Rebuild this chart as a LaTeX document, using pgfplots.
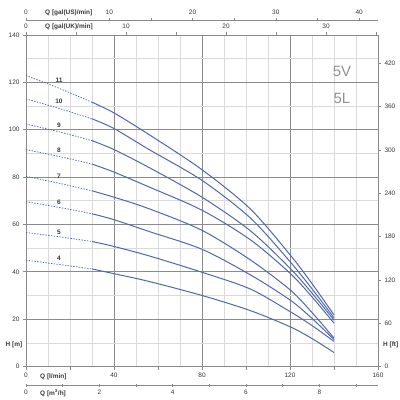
\documentclass[border=0pt]{standalone}
\usepackage{fontspec}
\setmainfont{Liberation Sans}
\usepackage{pgfplots}
\pgfplotsset{compat=1.18}

\definecolor{curve}{RGB}{78,104,168}
\definecolor{majgrid}{RGB}{138,138,138}
\definecolor{mingrid}{RGB}{218,218,218}
\definecolor{txt}{RGB}{55,55,55}
\definecolor{brand}{RGB}{145,145,145}

\newcommand\tk{\fontsize{6.5}{7.5}\selectfont}
\newcommand\nm{\fontsize{6.5}{7.5}\selectfont\bfseries}

\pgfplotsset{
  base/.style={
    width=352bp, height=331.5bp, scale only axis,
    /pgf/number format/assume math mode=true,
    tick label style={font=\tk, text=txt},
    axis line style={majgrid, line width=0.8bp},
    tick style={majgrid, line width=0.6bp},
    major tick length=3bp, minor tick length=3bp,
  },
  pump/.style={curve, line width=1bp, smooth},
  low/.style={curve, line width=0.75bp, smooth, dash pattern=on 1.4bp off 1.4bp},
}
\tikzset{stage/.style={font=\nm, text=txt, inner sep=0pt}}

\begin{document}
\begin{tikzpicture}
\path[use as bounding box] (-26bp,-33.5bp) rectangle (374bp,366.5bp);

% main grid, H [m]
\begin{axis}[base, at={(0,0)}, anchor=south west,
  xmin=0, xmax=160, ymin=0, ymax=140,
  xtick={0,40,...,160}, xticklabels={},
  minor xtick={10,20,30,50,60,70,90,100,110,130,140,150},
  ytick={0,20,...,140},
  minor ytick={10,30,...,130},
  grid=both,
  major grid style={majgrid, line width=0.8bp},
  minor grid style={mingrid, line width=0.6bp},
  xtick style={draw=none}, minor tick length=0pt,
  ytick pos=left, tick align=outside,
]
\addplot[low] coordinates {(0,122.9) (15,117.5) (30,111.6)};
\addplot[pump] coordinates {(30,111.6) (40,107.1) (56,97.9) (80,83.1) (102,66.5) (120,47.2) (130,35) (140,21.8)};
\addplot[low] coordinates {(0,113) (15,109) (30,104.6)};
\addplot[pump] coordinates {(30,104.6) (40,100.5) (56,91.6) (80,78.6) (102,62.7) (120,44.3) (130,32.8) (140,20.6)};
\addplot[low] coordinates {(0,102.4) (15,99.1) (30,95.4)};
\addplot[pump] coordinates {(30,95.4) (40,91.6) (56,84) (80,71.5) (102,57.3) (120,41.5) (130,31) (140,19.6)};
\addplot[low] coordinates {(0,91.6) (15,88.7) (30,85.5)};
\addplot[pump] coordinates {(30,85.5) (40,82.1) (56,75.8) (80,66) (102,53.5) (120,39.4) (130,29.4) (140,18.3)};
\addplot[low] coordinates {(0,80.3) (15,77.4) (30,74.2)};
\addplot[pump] coordinates {(30,74.2) (40,71.5) (56,66.6) (80,57.5) (102,45) (120,32.4) (130,22.8) (140,12)};
\addplot[low] coordinates {(0,69.6) (15,67.2) (30,64.5)};
\addplot[pump] coordinates {(30,64.5) (40,62) (56,57) (80,49.5) (102,38.7) (120,28.1) (130,20.3) (140,11.4)};
\addplot[low] coordinates {(0,56.6) (15,54.8) (30,52.8)};
\addplot[pump] coordinates {(30,52.8) (40,50.7) (56,46.7) (80,39.8) (102,32.7) (120,23.2) (130,17.3) (140,10.6)};
\addplot[low] coordinates {(0,44.9) (15,43.1) (30,41.2)};
\addplot[pump] coordinates {(30,41.2) (40,39.2) (56,35.9) (80,30) (102,23.6) (120,16.8) (130,11.8) (140,5.9)};

\node[stage] at (axis cs:15,120.9) {11};
\node[stage] at (axis cs:15,112) {10};
\node[stage] at (axis cs:15,101.9) {9};
\node[stage] at (axis cs:15,91.3) {8};
\node[stage] at (axis cs:15,80.3) {7};
\node[stage] at (axis cs:15,69.3) {6};
\node[stage] at (axis cs:15,56.8) {5};
\node[stage] at (axis cs:15,45.5) {4};
\node[font=\fontsize{15}{17}\selectfont, text=brand, inner sep=0pt] at (axis cs:143.6,124.6) {5V};
\node[font=\fontsize{15}{17}\selectfont, text=brand, inner sep=0pt] at (axis cs:143.6,113.2) {5L};
\end{axis}

% bottom: l/min
\begin{axis}[base, at={(0,0)}, anchor=south west,
  xmin=0, xmax=160, ymin=0, ymax=1, hide y axis, axis x line*=bottom,
  xtick={0,40,...,160}, minor xtick={20,60,100,140},
  tick align=outside,
]
\end{axis}

% bottom: m3/h
\begin{axis}[base, height=10bp, at={(0,-18.5bp)}, anchor=south west,
  xmin=0, xmax=9.6, ymin=0, ymax=1, hide y axis, axis x line*=bottom,
  xtick={0,2,...,8}, minor xtick={1,3,...,9},
  tick align=center,
]
\end{axis}

% top: gal(UK)/min
\begin{axis}[base, at={(0,0)}, anchor=south west,
  xmin=0, xmax=35.1955, ymin=0, ymax=1, hide y axis, axis x line*=top,
  xtick={0,10,20,30}, minor xtick={5,15,25,35},
  tick align=outside,
]
\end{axis}

% top: gal(US)/min
\begin{axis}[base, height=10bp, at={(0,346.5bp)}, anchor=north west,
  xmin=0, xmax=42.2675, ymin=0, ymax=1, hide y axis, axis x line*=top,
  xtick={0,10,...,40}, minor xtick={5,15,...,35},
  tick align=center,
]
\end{axis}

% right: H [ft]
\begin{axis}[base, at={(0,0)}, anchor=south west,
  xmin=0, xmax=1, ymin=0, ymax=459.318, hide x axis, axis y line*=right,
  ytick={0,60,...,420}, minor tick length=0pt,
  tick align=outside,
]
\end{axis}

\node[font=\nm, text=txt, anchor=west, inner sep=0pt] at (19bp,353.5bp) {Q [gal(US)/min]};
\node[font=\nm, text=txt, anchor=west, inner sep=0pt] at (19bp,339.5bp) {Q [gal(UK)/min]};
\node[font=\nm, text=txt, anchor=west, inner sep=0pt] at (14bp,-10.5bp) {Q [l/min]};
\node[font=\nm, text=txt, anchor=west, inner sep=0pt] at (14bp,-26.5bp) {Q [m\textsuperscript{3}/h]};
\node[font=\nm, text=txt, inner sep=0pt] at (-12bp,21.5bp) {H [m]};
\node[font=\nm, text=txt, anchor=west, inner sep=0pt] at (357bp,21.5bp) {H [ft]};
\end{tikzpicture}
\end{document}
